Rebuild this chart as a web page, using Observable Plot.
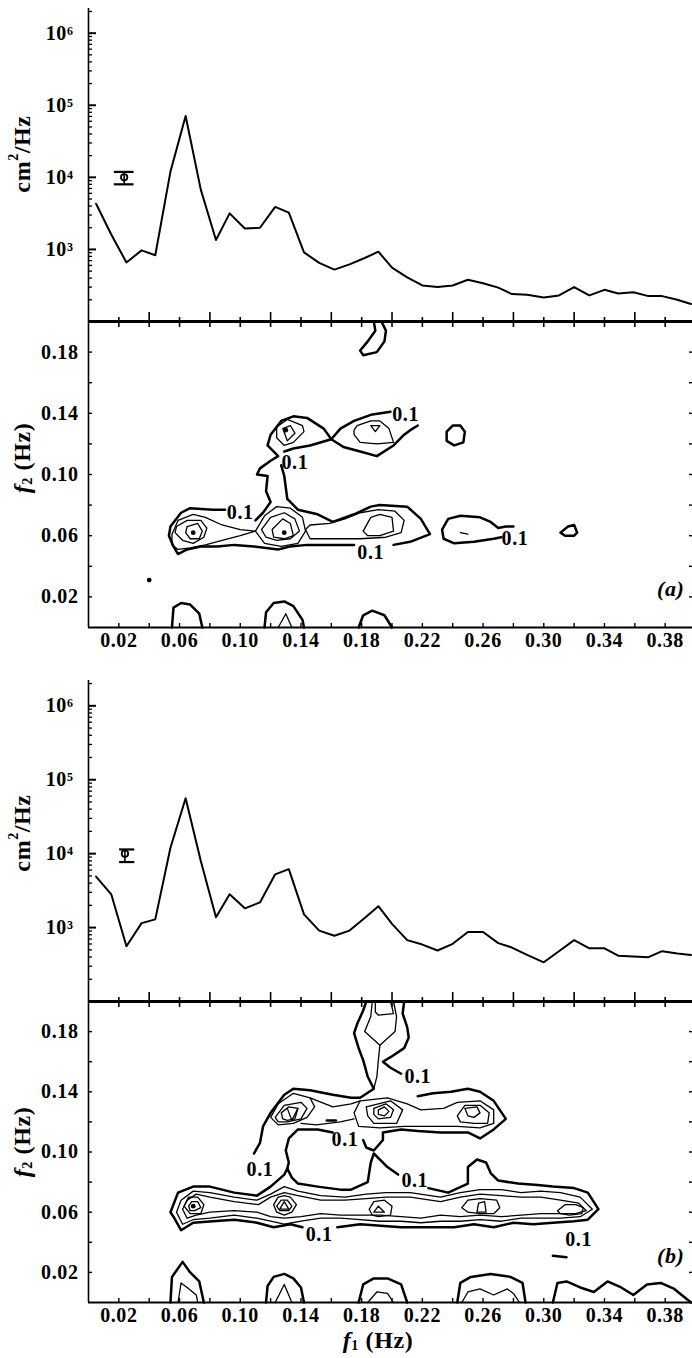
<!DOCTYPE html>
<html><head><meta charset="utf-8">
<script src="https://cdn.jsdelivr.net/npm/d3@7"></script>
<script src="https://cdn.jsdelivr.net/npm/@observablehq/plot@0.6"></script>
<style>
html,body{margin:0;padding:0;background:#fff;}
#root{position:relative;width:692px;height:1358px;overflow:hidden;background:#fff;}
#root svg{position:absolute;left:0;}
</style></head>
<body><div id="root"></div>
<script>
// ---------- DATA ----------
// frequency bins of the spectra (Hz)
const freqs = [0.005,0.015,0.025,0.035,0.044,0.054,0.064,0.074,0.084,0.093,0.103,0.113,0.123,0.132,0.142,0.152,0.162,0.172,0.182,0.191,0.200,0.210,0.220,0.230,0.240,0.250,0.260,0.270,0.279,0.289,0.300,0.310,0.320,0.330,0.340,0.349,0.359,0.369,0.378,0.388,0.397];
// spectral density (cm^2/Hz), panel (a) and (b)
const psdA = [4300,1610,660,970,830,12000,71000,6760,1350,3160,1950,2000,3890,3240,910,650,525,620,760,930,560,410,316,300,316,380,340,295,240,235,215,230,300,230,275,245,255,225,225,200,175];
const psdB = [4900,2820,560,1150,1290,12000,56200,7940,1380,2820,1820,2190,5250,6170,1510,910,776,910,1350,1950,1120,676,589,490,603,871,871,617,537,427,339,479,676,525,525,417,407,398,479,447,427];
// confidence bars
const errA = {f:0.0235, lo:8000, hi:11900, mid:10000, capLo:0.017, capHi:0.030};
const errB = {f:0.024, lo:7700, hi:11400, mid:10000, capLo:0.0205, capHi:0.0305};
// tick values
const psdDecades = [1e3,1e4,1e5,1e6];
const psdMantissas = [2,3,4,5,6,7,8,9];
const psdMinorDecades = [1e2,1e3,1e4,1e5,1e6];
const f1Labeled = [0.02,0.06,0.10,0.14,0.18,0.22,0.26,0.30,0.34,0.38];
const f1Even = [0.04,0.08,0.12,0.16,0.20,0.24,0.28,0.32,0.36];
const f2Labeled = [0.02,0.06,0.10,0.14,0.18];
const f2Even = [0.04,0.08,0.12,0.16];

// bicoherence contour lines, points [f1, f2] in mHz
const outerA = [ // 0.1 level
 {closed:false, pts:[[127,106],[129,99],[131,84],[138,77],[151,74],[161,69],[175,74],[186,79],[192,80],[210,79],[219,71],[225,61],[212,56],[201,54]]},
 {closed:false, pts:[[175,54],[161,54],[144,54],[133,53],[125,51],[109,53],[96,54],[85,53],[74,53],[65,51],[59,48],[56,53],[53,60],[54,66],[61,75],[67,78],[82,77],[90,77]]},
 {closed:false, pts:[[110,70],[115,75],[120,82],[117,89],[118,99],[111,100],[113,104],[120,109],[125,112],[118,119],[120,126],[127,135],[135,138],[144,137],[155,130],[160,123],[146,119],[135,117],[129,115]]},
 {closed:false, pts:[[217,132],[212,129],[208,126],[201,119],[190,112],[179,115],[168,118],[160,123],[166,130],[175,135],[186,139],[199,141]]},
 {closed:false, pts:[[272,59],[267,58],[254,56],[241,55],[234,58],[233,64],[237,71],[245,73],[258,72],[265,69],[270,65],[275,66],[280,66]]},
 {closed:true, pts:[[311,62],[316,66],[320,67],[322,62],[320,60],[314,60]]},
 {closed:true, pts:[[236,128],[240,132],[245,132],[248,128],[247,121],[241,119],[236,122]]},
 {closed:false, pts:[[188,200],[189,194],[184,187],[179,181],[181,178],[190,180],[195,187],[196,194],[193,200]]},
 {closed:false, pts:[[55,0],[56,13],[61,16],[67,15],[73,9],[75,0]]},
 {closed:false, pts:[[116,0],[117,10],[122,16],[129,17],[135,14],[141,5],[142,0]]},
 {closed:false, pts:[[178,0],[181,8],[187,11],[195,8],[200,0]]}
];
const innerA = [ // higher levels
 {closed:true, pts:[[175,129],[177,132],[186,135],[192,135],[198,130],[201,121],[190,120],[179,121],[175,126]]},
 {closed:true, pts:[[186,132],[192,132],[189,128]]},
 {closed:true, pts:[[124,131],[131,136],[141,132],[142,128],[135,121],[129,119],[124,124]]},
 {closed:true, pts:[[128,130],[133,132],[136,127],[131,122]]},
 {closed:true, pts:[[55,61],[59,70],[69,74],[77,72],[88,67],[100,64],[110,63],[100,60],[88,57],[77,54],[67,52],[59,51],[55,54]]},
 {closed:true, pts:[[58,66],[65,70],[74,70],[78,65],[76,59],[69,55],[62,57],[57,62]]},
 {closed:true, pts:[[65,66],[72,68],[75,63],[73,58],[67,58],[64,62]]},
 {closed:true, pts:[[110,63],[116,73],[124,79],[133,78],[141,72],[143,63],[138,55],[127,53],[116,55]]},
 {closed:true, pts:[[114,64],[120,72],[129,75],[136,71],[139,63],[133,58],[124,57],[117,59]]},
 {closed:true, pts:[[121,64],[128,71],[133,68],[135,60],[129,58],[122,59]]},
 {closed:true, pts:[[143,64],[146,67],[159,68],[169,71],[179,75],[191,77],[202,76],[208,70],[206,62],[196,59],[179,58],[161,58],[146,58]]},
 {closed:true, pts:[[181,63],[186,72],[192,74],[200,72],[201,63],[192,60],[184,60]]},
 {closed:false, pts:[[245,62],[250,61]]},
 {closed:false, pts:[[125,0],[130,9],[134,0]]}
];
const peaksA = [[69,62],[129,62],[130,129],[40,31]];
const labelsA = [[100,75],[136,108],[209,139],[186,49],[281,58]];

const outerB = [
 {closed:false, pts:[[164,50],[179,52],[206,50],[241,50],[254,52],[267,50],[280,53],[293,52],[306,53],[320,54],[329,55],[336,62],[329,73],[320,76],[306,77],[296,78],[283,79],[270,81],[265,86],[262,93],[256,95],[250,90],[250,79],[237,73],[224,76]]},
 {closed:false, pts:[[204,85],[197,90],[188,99],[186,93],[184,80],[173,75],[166,75],[151,77],[138,79],[134,83],[131,89],[129,85],[120,77],[111,71],[96,73],[80,77],[69,77],[59,73],[54,60],[56,57],[61,48],[69,53],[82,54],[96,55],[111,53],[122,50],[133,52],[141,50]]},
 {closed:false, pts:[[109,99],[113,106],[115,117],[120,126],[129,138],[135,142],[146,141],[161,138],[173,136],[179,136],[188,142],[184,150],[181,161],[178,169],[175,179],[177,185],[181,194],[183,200]]},
 {closed:false, pts:[[161,113],[151,115],[138,115],[132,109],[130,101],[132,93],[131,89]]},
 {closed:false, pts:[[208,200],[207,192],[210,183],[211,176],[208,169],[199,163],[194,160],[199,156],[206,152]]},
 {closed:false, pts:[[217,137],[227,139],[239,140],[250,142],[258,140],[267,134],[275,122],[267,115],[258,109],[250,113],[232,113],[217,114],[206,115],[194,113],[194,108],[188,101],[183,103],[181,108]]},
 {closed:false, pts:[[306,31],[315,30]]},
 {closed:false, pts:[[157,121],[163,121]]},
 {closed:false, pts:[[54,0],[55,17],[62,27],[67,20],[73,14],[76,0]]},
 {closed:false, pts:[[117,0],[118,11],[122,17],[129,19],[135,16],[140,10],[142,0]]},
 {closed:false, pts:[[178,0],[181,12],[188,16],[197,16],[206,12],[210,0]]},
 {closed:false, pts:[[243,0],[245,13],[252,17],[265,19],[278,17],[286,13],[288,0]]},
 {closed:false, pts:[[306,0],[309,13],[315,14],[324,10],[333,7],[342,14],[351,10],[359,5],[368,12],[377,13],[386,9],[397,0]]}
];
const innerB = [
 {closed:true, pts:[[58,60],[61,68],[69,74],[80,73],[96,70],[111,68],[120,72],[129,77],[138,74],[153,71],[169,70],[183,72],[196,73],[212,73],[232,70],[245,73],[258,75],[272,75],[285,73],[298,74],[311,73],[324,70],[332,62],[324,57],[311,56],[298,56],[285,56],[272,54],[258,55],[245,54],[232,54],[219,53],[206,54],[192,54],[179,55],[166,56],[153,56],[140,54],[129,52],[120,54],[111,56],[96,58],[80,56],[69,55],[62,52]]},
 {closed:true, pts:[[62,62],[65,68],[71,72],[80,70],[96,67],[112,65],[120,70],[129,73],[138,71],[153,68],[169,68],[183,69],[196,70],[212,70],[232,67],[245,70],[258,72],[272,71],[285,70],[298,70],[311,68],[323,66],[328,61],[321,59],[311,59],[298,59],[285,58],[272,57],[258,58],[245,57],[232,58],[219,56],[206,57],[192,58],[179,58],[166,58],[153,59],[140,57],[129,56],[120,57],[111,60],[96,61],[80,60],[71,58],[65,56]]},
 {closed:true, pts:[[63,64],[66,70],[72,70],[76,65],[74,59],[67,59]]},
 {closed:true, pts:[[66,64],[68,67],[72,67],[74,63],[70,61],[67,61]]},
 {closed:true, pts:[[122,65],[125,70],[129,71],[133,70],[137,65],[134,60],[129,58],[124,60]]},
 {closed:true, pts:[[124,64],[127,68],[131,68],[134,64],[132,61],[126,61]]},
 {closed:true, pts:[[126,62],[129,67],[132,62]]},
 {closed:true, pts:[[185,62],[188,67],[195,68],[200,64],[199,58],[191,57],[187,58]]},
 {closed:true, pts:[[188,60],[191,64],[195,60]]},
 {closed:true, pts:[[246,63],[250,68],[258,69],[269,68],[271,63],[267,59],[258,59],[250,60]]},
 {closed:true, pts:[[256,60],[257,66],[261,67],[262,60]]},
 {closed:true, pts:[[309,61],[314,65],[321,65],[326,63],[325,59],[317,58],[311,59]]},
 {closed:true, pts:[[175,126],[179,134],[197,136],[210,132],[219,128],[234,129],[243,133],[258,134],[267,128],[267,119],[258,116],[243,117],[232,117],[219,117],[208,117],[192,116],[178,117]]},
 {closed:true, pts:[[183,130],[199,134],[207,128],[203,119],[188,119],[184,124]]},
 {closed:true, pts:[[188,129],[196,132],[201,128],[199,123],[191,122],[188,125]]},
 {closed:true, pts:[[191,128],[195,130],[198,127],[195,124],[191,125]]},
 {closed:true, pts:[[243,124],[248,131],[258,131],[264,126],[263,119],[254,119],[245,120]]},
 {closed:true, pts:[[248,129],[256,130],[258,126],[254,123],[250,124]]},
 {closed:true, pts:[[120,123],[125,132],[135,139],[146,136],[149,130],[144,123],[135,119],[125,118]]},
 {closed:true, pts:[[123,123],[129,131],[140,133],[144,129],[140,122],[131,120],[125,120]]},
 {closed:true, pts:[[127,126],[132,130],[138,129],[136,122],[131,121],[128,122]]},
 {closed:false, pts:[[131,129],[134,121],[138,129]]},
 {closed:false, pts:[[146,136],[161,130],[173,132],[179,134]]},
 {closed:false, pts:[[140,119],[150,118],[166,120],[175,122]]},
 {closed:false, pts:[[187,200],[186,190],[182,180],[192,171],[202,180],[203,190],[201,200]]},
 {closed:false, pts:[[189,200],[189,193],[191,191],[201,192],[199,200]]},
 {closed:false, pts:[[192,171],[191,161],[190,150],[188,142]]},
 {closed:false, pts:[[59,0],[61,13],[65,10],[71,5],[72,0]]},
 {closed:false, pts:[[123,0],[129,12],[134,0]]},
 {closed:false, pts:[[184,0],[190,7],[197,6],[201,0]]},
 {closed:false, pts:[[246,0],[250,7],[258,9],[267,5],[276,9],[280,6],[284,0]]}
];
const peaksB = [[69,64]];
const labelsB = [[113,88],[169,108],[217,150],[215,81],[152,45],[323,42]];
const contourLabelText = "0.1";

// ---------- RENDER ----------
const W = 692;
const FONT = "Liberation Serif, Times New Roman, serif";
const fDomain = [0, 0.398];
const psdDomain = [100, 2.2e6];
const psdMinor = psdMinorDecades.flatMap(d => psdMantissas.map(m => m*d)).filter(v => v <= psdDomain[1]);
const f1All = [...f1Labeled, ...f1Even].sort((a,b)=>a-b);
const f2All = [...f2Labeled, ...f2Even].sort((a,b)=>a-b);
const SUP = {"2":"²","3":"³","4":"⁴","5":"⁵","6":"⁶"};
const fmtPow = d => "10" + SUP[String(Math.round(Math.log10(d)))];
const blank = () => "";
const baseStyle = {fontFamily: FONT, fontSize: "20px", fontWeight: "bold", background: "none", color: "#000", letterSpacing: "0.6px"};
const TXT = {fontFamily: FONT, fontSize: 20, fontWeight: "bold"};

function flatten(set) {
  const rows = [];
  set.forEach((c, i) => {
    const pts = c.closed ? [...c.pts, c.pts[0]] : c.pts;
    pts.forEach(([a, b]) => rows.push({id: i, f1: a/1000, f2: b/1000}));
  });
  return rows;
}
const toPts = arr => arr.map(([a,b]) => ({f1: a/1000, f2: b/1000}));

function spectrum(values, err, H) {
  const data = freqs.map((f, i) => ({f, v: values[i]}));
  return Plot.plot({
    width: W, height: H, marginLeft: 88, marginRight: 0, marginTop: 8, marginBottom: 1,
    x: {domain: fDomain, axis: null},
    y: {type: "log", domain: psdDomain, axis: null},
    style: baseStyle,
    marks: [
      Plot.ruleX([0], {strokeWidth: 1.6}),
      Plot.axisY(psdMinor, {anchor: "left", tickSize: -4, tickFormat: blank, label: null, strokeWidth: 1.3}),
      Plot.axisY(psdDecades, {anchor: "left", tickSize: -8, tickFormat: blank, label: null, strokeWidth: 2}),
      Plot.axisY(psdDecades, {anchor: "left", tickSize: 0, tickPadding: 15, tickFormat: fmtPow, label: null, ...TXT}),
      Plot.axisX(f1Even, {anchor: "bottom", tickSize: -9, tickFormat: blank, label: null, strokeWidth: 1.6}),
      Plot.axisX(f1Labeled, {anchor: "bottom", tickSize: -4, tickFormat: blank, label: null, strokeWidth: 1.6}),
      Plot.line(data, {x: "f", y: "v", strokeWidth: 2, strokeLinejoin: "round"}),
      Plot.ruleY([err], {y: "lo", x1: "capLo", x2: "capHi", strokeWidth: 2.2}),
      Plot.ruleY([err], {y: "hi", x1: "capLo", x2: "capHi", strokeWidth: 2.2}),
      Plot.dot([err], {x: "f", y: "mid", r: 3.2, fill: "white", stroke: "black", strokeWidth: 1.8}),
      Plot.ruleX([err], {x: "f", y1: "lo", y2: "hi", strokeWidth: 1.6})
    ]
  });
}

function contour(outer, inner, peaks, labels, tag, H, mb, tagDy) {
  return Plot.plot({
    width: W, height: H, marginLeft: 88, marginRight: 0, marginTop: 2, marginBottom: mb,
    x: {domain: fDomain, axis: null},
    y: {domain: [0, 0.2], axis: null},
    style: baseStyle,
    marks: [
      Plot.ruleX([0], {strokeWidth: 1.6}),
      Plot.ruleY([0], {strokeWidth: 1.8}),
      Plot.axisX(f1All, {anchor: "bottom", tickSize: -4, tickFormat: blank, label: null, strokeWidth: 1.4}),
      Plot.axisX(f1Labeled, {anchor: "bottom", tickSize: 0, tickPadding: 5, tickFormat: d => d.toFixed(2), label: null, ...TXT}),
      Plot.axisX(f1All, {anchor: "top", tickSize: -5, tickFormat: blank, label: null, strokeWidth: 1.6}),
      Plot.axisY(f2All, {anchor: "left", tickSize: -4, tickFormat: blank, label: null, strokeWidth: 1.4}),
      Plot.axisY(f2Labeled, {anchor: "left", tickSize: 0, tickPadding: 10, tickFormat: d => d.toFixed(2), label: null, ...TXT}),
      Plot.axisY(f2All, {anchor: "right", tickSize: -4, tickFormat: blank, label: null, strokeWidth: 1.4}),
      Plot.line(flatten(inner), {x: "f1", y: "f2", z: "id", strokeWidth: 1.3, strokeLinejoin: "round"}),
      Plot.line(flatten(outer), {x: "f1", y: "f2", z: "id", strokeWidth: 2.5, strokeLinejoin: "round"}),
      Plot.dot(toPts(peaks), {x: "f1", y: "f2", r: 2.4, fill: "black"}),
      Plot.text(toPts(labels), {x: "f1", y: "f2", text: () => contourLabelText, ...TXT}),
      Plot.text([tag], {frameAnchor: "bottom-right", dx: -8, dy: tagDy, textAnchor: "end", text: d => d, fontFamily: FONT, fontStyle: "italic", fontWeight: "bold", fontSize: 22})
    ].concat([Plot.ruleY([0.2], {strokeWidth: 3.2})])
  });
}

function place(svg, top) {
  svg.style.top = top + "px";
  svg.style.position = "absolute";
  svg.style.left = "0px";
  svg.style.overflow = "visible";
  document.getElementById("root").appendChild(svg);
  return svg;
}

function title(svg, x, y, parts, rotate) {
  const t = d3.select(svg).append("text")
    .attr("transform", `translate(${x},${y})` + (rotate ? " rotate(-90)" : ""))
    .attr("text-anchor", "middle")
    .attr("dominant-baseline", "central")
    .style("font-family", FONT).style("font-size", "24px").style("font-weight", "bold");
  for (const p of parts) {
    const s = t.append("tspan").text(p.t);
    if (p.italic) s.style("font-style", "italic");
    if (p.small) s.style("font-size", "14px");
    if (p.dy) s.attr("dy", p.dy);
  }
}
const cmLabel = [{t:"cm"},{t:"2", small:true, dy:-9},{t:"/Hz", dy:9}];
const f2Label = [{t:"f", italic:true},{t:"2", small:true, dy:5},{t:" (Hz)", dy:-5}];
const f1Label = [{t:"f", italic:true},{t:"1", small:true, dy:5},{t:" (Hz)", dy:-5}];

const sA = place(spectrum(psdA, errA, 322), 0);
title(sA, 22, 154, cmLabel, true);
const cA = place(contour(outerA, innerA, peaksA, labelsA, "(a)", 344, 36, -32), 319);
title(cA, 22, 139, f2Label, true);
const sB = place(spectrum(psdB, errB, 330), 672);
title(sB, 22, 161, cmLabel, true);
const cB = place(contour(outerB, innerB, peaksB, labelsB, "(b)", 359, 56, -40), 999);
title(cB, 22, 143, f2Label, true);
title(cB, 378, 341, f1Label, false);
</script>
</body></html>
